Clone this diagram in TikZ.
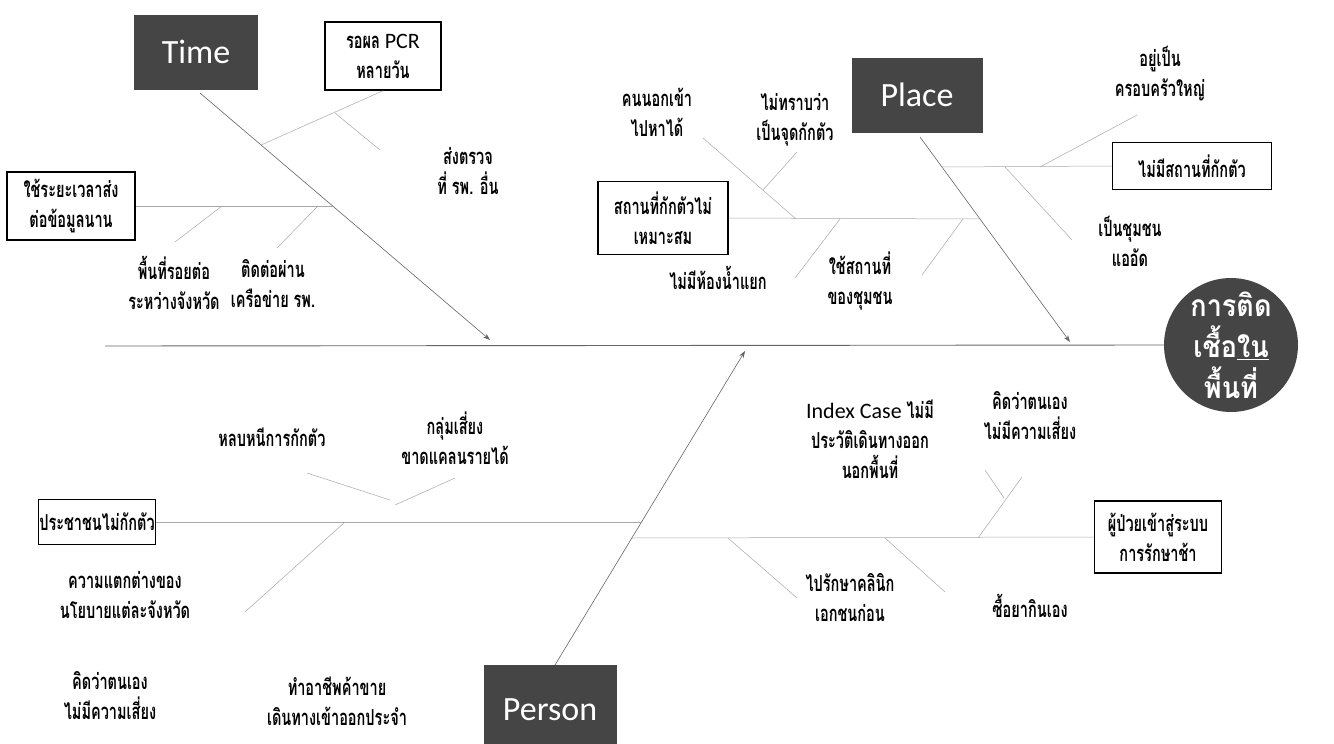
\documentclass[tikz,border=0pt]{standalone}
\usepackage{fontspec}
\newfontfamily\thaifont[Script=Thai,FakeStretch=0.66]{Loma}
\newfontfamily\thaiwide[Script=Thai,FakeStretch=0.9]{Loma}
\newfontfamily\labelfont{Carlito}
\usetikzlibrary{arrows.meta}
\definecolor{headfill}{gray}{0.27}
\definecolor{spinegray}{gray}{0.4}
\definecolor{ribgray}{gray}{0.66}
\tikzset{
  cause/.style={font=\thaifont\bfseries\fontsize{22}{30}\selectfont, align=center, inner sep=0pt},
  causebox/.style 2 args={cause, draw=black, line width=1.5pt, fill=white,
    minimum width=#1pt, minimum height=#2pt},
  head/.style 2 args={fill=headfill, text=white, inner sep=0pt,
    font=\labelfont\fontsize{34}{34}\selectfont, minimum width=#1pt, minimum height=#2pt},
  spine/.style={draw=spinegray, line width=0.9pt},
  bone/.style={draw=spinegray, line width=0.6pt},
  rib/.style={draw=ribgray, line width=0.5pt},
  tip/.style={-{Stealth[length=7pt,width=5pt]}},
}
\begin{document}
\begin{tikzpicture}[x=1pt,y=-1pt]
\useasboundingbox[fill=white] (0,0) rectangle (1334,744);

% category heads and effect
\node[head={124}{75}] (time) at (196,52) {Time};
\node[head={131}{75}] (place) at (917,95) {Place};
\node[head={133}{90}] (person) at (550,710) {Person};
\node[circle, fill=headfill, minimum size=114pt, inner sep=0pt, text=white, align=center,
  font=\thaiwide\bfseries\fontsize{30}{41}\selectfont] (effect) at (1231,345)
  {การติด\\เชื้อ\underline{ใน}\\พื้นที่};

% boxed causes
\node[causebox={128}{68}] (delay) at (71,206) {ใช้ระยะเวลาส่ง\\ต่อข้อมูลนาน};
\node[causebox={116}{68}] (pcr) at (383,56) {รอผล {\labelfont\mdseries PCR}\\หลายวัน};
\node[causebox={130}{73}] (unfit) at (663,218) {สถานที่กักตัวไม่\\เหมาะสม};
\node[causebox={159}{47}] (noplace) at (1192,166) {ไม่มีสถานที่กักตัว};
\node[causebox={117}{45}] (noquar) at (97,522) {ประชาชนไม่กักตัว};
\node[causebox={127}{72}] (late) at (1158,537) {ผู้ป่วยเข้าสู่ระบบ\\การรักษาช้า};

% plain causes
\node[cause] (send) at (468,171) {ส่งตรวจ\\ที่ รพ. อื่น};
\node[cause] (border) at (174,283) {พื้นที่รอยต่อ\\ระหว่างจังหวัด};
\node[cause] (network) at (273,284) {ติดต่อผ่าน\\เครือข่าย รพ.};
\node[cause] (outsider) at (657,112) {คนนอกเข้า\\ไปหาได้};
\node[cause] (unknown) at (795,120) {ไม่ทราบว่า\\เป็นจุดกักตัว};
\node[cause] (bath) at (718,278) {ไม่มีห้องน้ำแยก};
\node[cause] (commun) at (860,281) {ใช้สถานที่\\ของชุมชน};
\node[cause] (family) at (1160,74) {อยู่เป็น\\ครอบครัวใหญ่};
\node[cause] (crowd) at (1130,241) {เป็นชุมชน\\แออัด};
\node[cause] (evade) at (272,437) {หลบหนีการกักตัว};
\node[cause] (income) at (455,438) {กลุ่มเสี่ยง\\ขาดแคลนรายได้};
\node[cause] (policy) at (125,595) {ความแตกต่างของ\\นโยบายแต่ละจังหวัด};
\node[cause] (norisk) at (110,696) {คิดว่าตนเอง\\ไม่มีความเสี่ยง};
\node[cause] (trade) at (337,701) {ทำอาชีพค้าขาย\\เดินทางเข้าออกประจำ};
\node[cause] (index) at (870,439) {{\labelfont\mdseries Index Case} ไม่มี\\ประวัติเดินทางออก\\นอกพื้นที่};
\node[cause] (selfrisk) at (1030,416) {คิดว่าตนเอง\\ไม่มีความเสี่ยง};
\node[cause] (clinic) at (850,598) {ไปรักษาคลินิก\\เอกชนก่อน};
\node[cause] (selfmed) at (1030,606) {ซื้อยากินเอง};

% spine
\coordinate (tail) at (105,346);
\draw[spine] (tail) -- (effect.west);

% main bones
\coordinate (timefoot) at (200,93);
\coordinate (timetip) at (490,340);
\coordinate (placefoot) at (920,137);
\coordinate (placetip) at (1070,342);
\coordinate (personfoot) at (555,665);
\coordinate (persontip) at (745,351);
\draw[bone,tip] (timefoot) -- (timetip);
\draw[bone,tip] (placefoot) -- (placetip);
\draw[bone,tip] (personfoot) -- (persontip);

% Time ribs
\coordinate (tj1) at (333,206);
\coordinate (tj2) at (261,145);
\draw[rib] (delay.east) -- (tj1);
\draw[rib] (pcr.south) -- (tj2);
\coordinate (ts1) at (335,113);
\coordinate (ts2) at (380,150);
\draw[rib] (ts1) -- (ts2);
\coordinate (tb1) at (175,242);
\coordinate (tb2) at (222,206);
\draw[rib] (tb1) -- (tb2);
\coordinate (tn1) at (277,248);
\coordinate (tn2) at (318,206);
\draw[rib] (tn1) -- (tn2);

% Place ribs
\coordinate (pj1) at (980,219);
\coordinate (pj2) at (942,167);
\draw[rib] (unfit.east) -- (pj1);
\draw[rib] (pj2) -- (noplace.west);
\coordinate (po1) at (703,138);
\coordinate (po2) at (796,219);
\draw[rib] (po1) -- (po2);
\coordinate (pu1) at (797,152);
\coordinate (pu2) at (763,190);
\draw[rib] (pu1) -- (pu2);
\coordinate (pb1) at (840,219);
\coordinate (pb2) at (795,278);
\draw[rib] (pb1) -- (pb2);
\coordinate (pc1) at (963,219);
\coordinate (pc2) at (922,275);
\draw[rib] (pc1) -- (pc2);
\coordinate (pf1) at (1040,167);
\coordinate (pf2) at (1137,115);
\draw[rib] (pf1) -- (pf2);
\coordinate (pw1) at (1005,167);
\coordinate (pw2) at (1072,240);
\draw[rib] (pw1) -- (pw2);

% Person ribs
\coordinate (qj1) at (641,522);
\coordinate (qj2) at (632,538);
\draw[rib] (noquar.east) -- (qj1);
\draw[rib] (qj2) -- (late.west);
\coordinate (qe1) at (307,473);
\coordinate (qe2) at (390,500);
\draw[rib] (qe1) -- (qe2);
\coordinate (qi1) at (455,478);
\coordinate (qi2) at (395,505);
\draw[rib] (qi1) -- (qi2);
\coordinate (qp1) at (345,522);
\coordinate (qp2) at (245,612);
\draw[rib] (qp1) -- (qp2);
\coordinate (qr1) at (978,538);
\coordinate (qr2) at (1022,477);
\draw[rib] (qr1) -- (qr2);
\coordinate (qx1) at (985,470);
\coordinate (qx2) at (1004,498);
\draw[rib] (qx1) -- (qx2);
\coordinate (qc1) at (728,538);
\coordinate (qc2) at (797,598);
\draw[rib] (qc1) -- (qc2);
\coordinate (qm1) at (885,538);
\coordinate (qm2) at (945,592);
\draw[rib] (qm1) -- (qm2);
\end{tikzpicture}
\end{document}
